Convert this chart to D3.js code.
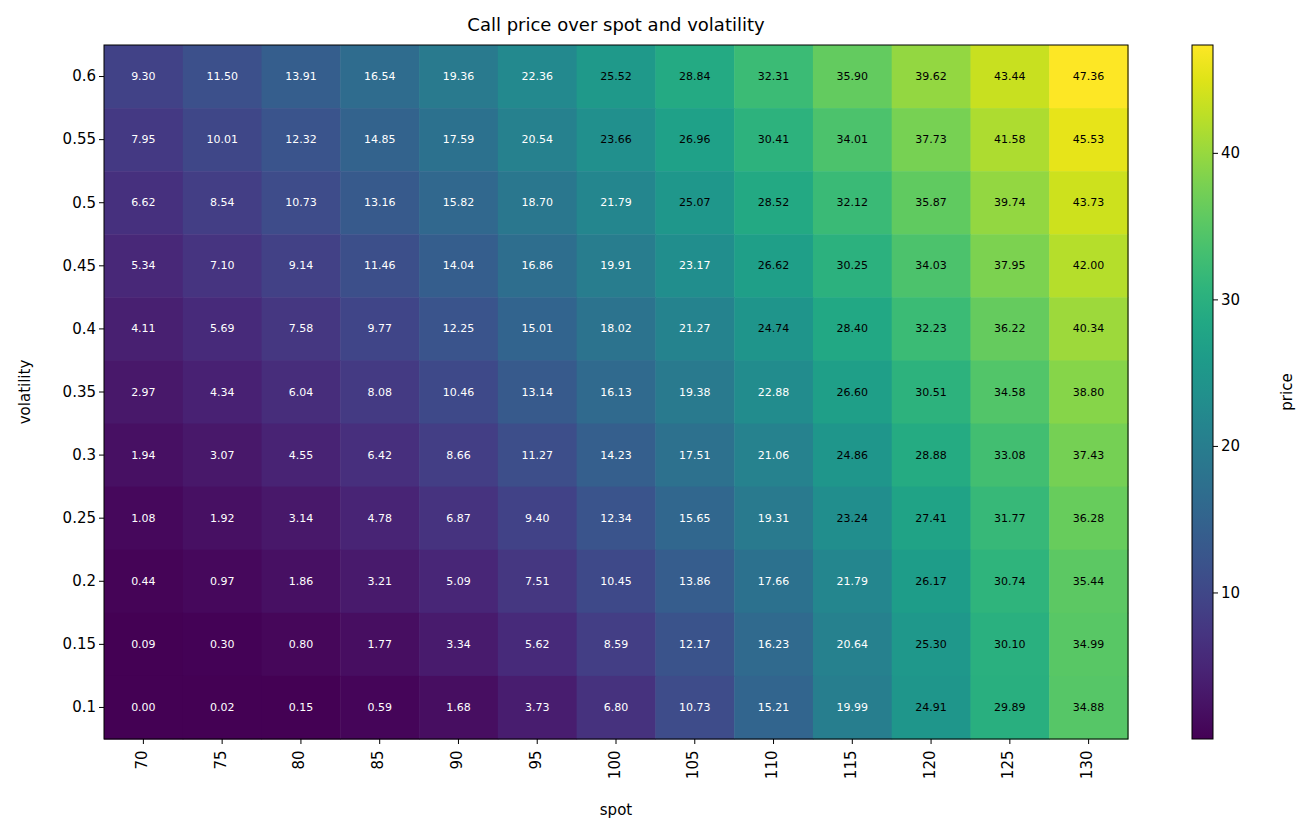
<!DOCTYPE html>
<html><head><meta charset="utf-8">
<script src="https://cdn.jsdelivr.net/npm/d3@7"></script>
<style>body{margin:0;background:#fff;font-family:"DejaVu Sans",sans-serif}</style>
</head><body>
<script>
var spots = [70,75,80,85,90,95,100,105,110,115,120,125,130];
var vols = ["0.6","0.55","0.5","0.45","0.4","0.35","0.3","0.25","0.2","0.15","0.1"];
var prices = [
 [9.30,11.50,13.91,16.54,19.36,22.36,25.52,28.84,32.31,35.90,39.62,43.44,47.36],
 [7.95,10.01,12.32,14.85,17.59,20.54,23.66,26.96,30.41,34.01,37.73,41.58,45.53],
 [6.62,8.54,10.73,13.16,15.82,18.70,21.79,25.07,28.52,32.12,35.87,39.74,43.73],
 [5.34,7.10,9.14,11.46,14.04,16.86,19.91,23.17,26.62,30.25,34.03,37.95,42.00],
 [4.11,5.69,7.58,9.77,12.25,15.01,18.02,21.27,24.74,28.40,32.23,36.22,40.34],
 [2.97,4.34,6.04,8.08,10.46,13.14,16.13,19.38,22.88,26.60,30.51,34.58,38.80],
 [1.94,3.07,4.55,6.42,8.66,11.27,14.23,17.51,21.06,24.86,28.88,33.08,37.43],
 [1.08,1.92,3.14,4.78,6.87,9.40,12.34,15.65,19.31,23.24,27.41,31.77,36.28],
 [0.44,0.97,1.86,3.21,5.09,7.51,10.45,13.86,17.66,21.79,26.17,30.74,35.44],
 [0.09,0.30,0.80,1.77,3.34,5.62,8.59,12.17,16.23,20.64,25.30,30.10,34.99],
 [0.00,0.02,0.15,0.59,1.68,3.73,6.80,10.73,15.21,19.99,24.91,29.89,34.88]
];
var cbTicks = [10,20,30,40];

var W=1311,H=837, L=104,R=1128,T=45,B=739;
var svg=d3.select("body").append("svg").attr("width",W).attr("height",H);
var x=d3.scaleBand().domain(spots).range([L,R]);
var y=d3.scaleBand().domain(vols).range([T,B]);
var vmin=0, vmax=47.36;
var color=d3.scaleSequential(d3.interpolateViridis).domain([vmin,vmax]);

var cells=[];
prices.forEach(function(row,i){row.forEach(function(v,j){cells.push({v:v,s:spots[j],vol:vols[i]});});});
svg.selectAll("rect.c").data(cells).enter().append("rect")
 .attr("x",d=>x(d.s)).attr("y",d=>y(d.vol)).attr("width",x.bandwidth()+0.5).attr("height",y.bandwidth()+0.5)
 .attr("fill",d=>color(d.v));
svg.selectAll("text.c").data(cells).enter().append("text")
 .attr("x",d=>x(d.s)+x.bandwidth()/2).attr("y",d=>y(d.vol)+y.bandwidth()/2)
 .attr("text-anchor","middle").attr("dominant-baseline","central")
 .attr("font-size",11).attr("fill",d=>d.v>23.2?"#000":"#fff").text(d=>d.v.toFixed(2));
svg.append("rect").attr("x",L).attr("y",T).attr("width",R-L).attr("height",B-T).attr("fill","none").attr("stroke","#000");

var xa=svg.append("g").attr("transform","translate(0,"+B+")").call(d3.axisBottom(x).tickSizeOuter(0).tickSize(5));
xa.select(".domain").remove();
xa.selectAll("text").attr("font-size",15).attr("font-family","DejaVu Sans")
 .attr("transform","rotate(-90)").attr("text-anchor","end").attr("dx","-0.5em").attr("dy","-0.1em").attr("y",0).attr("x",-4)
 .attr("dominant-baseline","central");
var ya=svg.append("g").attr("transform","translate("+L+",0)").call(d3.axisLeft(y).tickSizeOuter(0).tickSize(5));
ya.select(".domain").remove();
ya.selectAll("text").attr("font-size",15).attr("font-family","DejaVu Sans");

svg.append("text").attr("x",(L+R)/2).attr("y",815).attr("text-anchor","middle").attr("font-size",15).text("spot");
svg.append("text").attr("transform","translate(30,"+(T+B)/2+") rotate(-90)").attr("text-anchor","middle").attr("font-size",15).text("volatility");
svg.append("text").attr("x",(L+R)/2).attr("y",31).attr("text-anchor","middle").attr("font-size",18).text("Call price over spot and volatility");

// colorbar
var cx=1192,cw=21;
var cy=d3.scaleLinear().domain([vmin,vmax]).range([B,T]);
var defs=svg.append("defs"),g=defs.append("linearGradient").attr("id","cb").attr("x1",0).attr("y1",1).attr("x2",0).attr("y2",0);
d3.range(0,1.0001,0.05).forEach(function(t){g.append("stop").attr("offset",t).attr("stop-color",d3.interpolateViridis(t));});
svg.append("rect").attr("x",cx).attr("y",T).attr("width",cw).attr("height",B-T).attr("fill","url(#cb)").attr("stroke","#000");
var ca=svg.append("g").attr("transform","translate("+(cx+cw)+",0)").call(d3.axisRight(cy).tickValues(cbTicks).tickSize(5));
ca.select(".domain").remove();
ca.selectAll("text").attr("font-size",15).attr("font-family","DejaVu Sans");
svg.append("text").attr("transform","translate(1292,"+(T+B)/2+") rotate(-90)").attr("text-anchor","middle").attr("font-size",15).text("price");
</script>
</body></html>
